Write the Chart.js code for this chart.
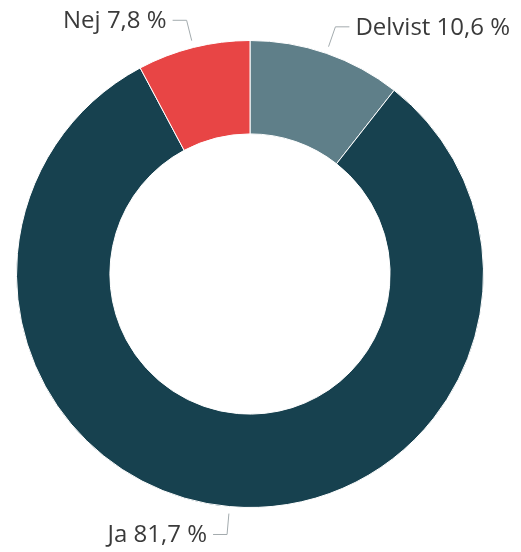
<!DOCTYPE html>
<html>
<head>
<meta charset="utf-8">
<script src="https://cdn.jsdelivr.net/npm/chart.js@4.4.1/dist/chart.umd.min.js"></script>
<style>
  html, body { margin: 0; padding: 0; background: #fff; }
  #wrap { width: 521px; height: 552px; }
</style>
</head>
<body>
<div id="wrap"><canvas id="chart" width="521" height="552"></canvas></div>
<script>
// answers, in drawing order (clockwise from the top)
const labels = ['Delvist', 'Ja', 'Nej'];
const shares = [10.6, 81.7, 7.8];
const colors = ['#5f7f89', '#17414f', '#e84545'];

const fmt = v => v.toFixed(1).replace('.', ',') + ' %';

// leader lines + labels outside the ring
const outerLabels = {
  id: 'outerLabels',
  afterDraw(chart) {
    const ctx = chart.ctx;
    const arcs = chart.getDatasetMeta(0).data;
    ctx.save();
    ctx.font = '24px "Open Sans", sans-serif';
    ctx.textBaseline = 'middle';
    arcs.forEach((arc, i) => {
      const mid = (arc.startAngle + arc.endAngle) / 2;
      const dx = Math.cos(mid), dy = Math.sin(mid);
      const r = arc.outerRadius;
      const x0 = arc.x + dx * (r + 7), y0 = arc.y + dy * (r + 7);
      const x1 = arc.x + dx * (r + 28), y1 = arc.y + dy * (r + 28);
      const right = dx >= 0;
      const x2 = x1 + (right ? 14 : -14);
      ctx.strokeStyle = '#a3abae';
      ctx.lineWidth = 1;
      ctx.beginPath();
      ctx.moveTo(x0, y0);
      ctx.lineTo(x1, y1);
      ctx.lineTo(x2, y1);
      ctx.stroke();
      ctx.fillStyle = '#3a3a3a';
      ctx.textAlign = right ? 'left' : 'right';
      ctx.fillText(labels[i] + ' ' + fmt(shares[i]), x2 + (right ? 6 : -6), y1 + 1);
    });
    ctx.restore();
  }
};

new Chart(document.getElementById('chart'), {
  type: 'doughnut',
  data: {
    labels: labels,
    datasets: [{
      data: shares,
      backgroundColor: colors,
      borderColor: '#ffffff',
      borderWidth: 1
    }]
  },
  options: {
    responsive: false,
    animation: false,
    cutout: '60%',
    layout: { padding: { top: 40, bottom: 44, left: 16, right: 37 } },
    plugins: {
      legend: { display: false },
      tooltip: { enabled: false }
    }
  },
  plugins: [outerLabels]
});
</script>
</body>
</html>
